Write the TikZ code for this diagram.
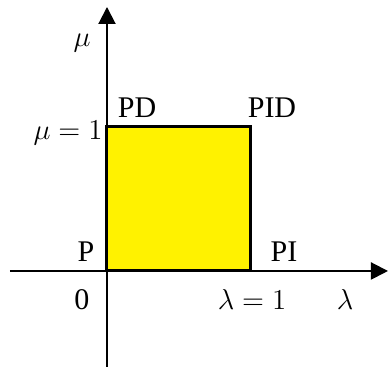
\documentclass[tikz,border=0pt]{standalone}
\usepackage{fontspec}
\setmainfont{Liberation Serif}
\usetikzlibrary{positioning,arrows.meta}

\begin{document}
\begin{tikzpicture}[
  x=0.5pt,y=0.5pt,
  font=\fontsize{15}{18}\selectfont,
  >={Triangle[length=8.5pt,width=8.5pt]},
  axis/.style={->,line width=1pt},
  region/.style={fill=yellow,draw=black,line width=1.5pt},
  lbl/.style={anchor=base,inner sep=0pt},
]
\useasboundingbox (0,0) rectangle (388,367);

% ===== axes =====
\coordinate (O) at (107,96);
\coordinate (xstart) at (10,96);
\coordinate (xend) at (388,96);
\coordinate (ystart) at (107,0);
\coordinate (yend) at (107,360);
\draw[axis] (xstart) -- (xend);
\draw[axis] (ystart) -- (yend);

% ===== controller region =====
\coordinate (C) at (251,240);
\draw[region] (O) rectangle (C);

% ===== labels =====
\node[lbl] (mu) at (82,320) {$\mu$};
\node[lbl] (pd) at (137,249) {PD};
\node[lbl] (pid) at (272,249) {PID};
\node[lbl] (muone) at (68,227) {$\mu = 1$};
\node[lbl] (p) at (86,105) {P};
\node[lbl] (pi) at (284,105) {PI};
\node[lbl] (zero) at (82,57) {0};
\node[lbl] (lamone) at (252,57) {$\lambda = 1$};
\node[lbl] (lam) at (345,57) {$\lambda$};
\end{tikzpicture}
\end{document}
